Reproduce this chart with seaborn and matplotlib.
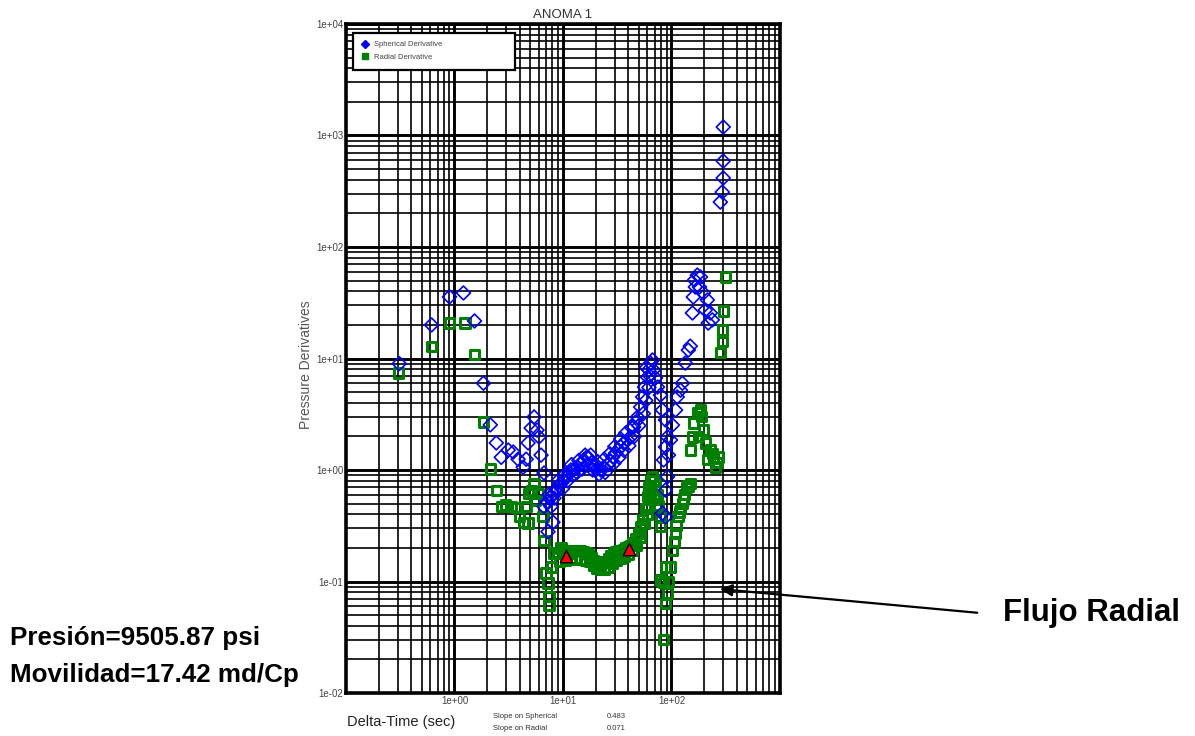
import numpy as np
import pandas as pd
import matplotlib
matplotlib.use("Agg")
import matplotlib.pyplot as plt
import seaborn as sns
from matplotlib.ticker import LogLocator, FixedLocator, FuncFormatter, NullFormatter
from matplotlib.lines import Line2D

# datos (tiempo en s, derivada)
sph_t = [0.31, 0.615, 0.90, 1.21, 1.53, 1.85, 2.14, 2.43, 2.70, 3.13, 3.48, 3.86, 4.30,
         4.58, 4.77, 5.09, 5.42, 5.77, 6.02, 6.28, 6.69, 7.28, 8.09, 7.76, 7.44, 8.27,
         6.69, 7.13, 7.76, 8.27, 8.62, 9.19, 9.59, 10.2, 10.7, 11.4, 11.8, 12.9, 13.7,
         14.6, 15.6, 16.6, 17.3, 18.5, 19.2, 20.5, 22.3, 23.8, 25.9, 27.6, 28.8, 30.6,
         32.0, 34.0, 36.3, 39.5, 42.0, 44.8, 46.7, 48.7, 52.0, 54.2, 56.5, 60.2, 61.5,
         64.2, 66.9, 68.4, 71.3, 74.4, 79.2, 82.6,
         9.0, 10.5, 12.0, 14.0, 16.0, 18.0, 21.0, 24.0, 27.0, 30.0, 34.0, 38.0, 43.0,
         9.9, 11.0, 12.3, 13.5, 15.0, 16.8, 18.8, 21.5, 24.5, 29.5, 33.0, 36.5, 40.5,
         45.5, 50.0, 55.0, 58.0, 62.0, 63.0, 59.0,
         88.1, 91.9, 88.1, 84.5, 91.9, 88.1, 82.6, 88.1,
         93.8, 97.9, 102, 109, 113, 121, 126, 134, 143, 149,
         173, 185, 163, 166, 159, 156, 181, 197, 214, 228, 238, 218, 205,
         300, 300, 300, 294, 282]
sph_d = [9.0, 20.0, 35.7, 38.7, 21.7, 6.0, 2.54, 1.75, 1.30, 1.51, 1.45, 1.25, 1.06,
         1.25, 1.75, 2.38, 2.99, 2.28, 1.98, 1.36, 0.94, 0.28, 0.34, 0.47, 0.60, 0.56,
         0.47, 0.52, 0.57, 0.62, 0.66, 0.72, 0.76, 0.81, 0.87, 0.94, 1.0, 1.04, 1.06,
         1.13, 1.23, 1.31, 1.28, 1.16, 1.06, 1.02, 1.0, 1.06, 1.11, 1.20, 1.31, 1.42,
         1.51, 1.61, 1.75, 1.86, 1.98, 2.43, 2.69, 2.99, 3.67, 4.52, 5.55, 6.8, 7.9,
         9.1, 9.7, 7.9, 6.7, 5.55, 4.7, 3.45,
         0.80, 0.92, 1.12, 1.22, 1.36, 1.36, 1.18, 1.25, 1.40, 1.62, 1.90, 2.15, 2.40,
         0.68, 0.80, 0.90, 0.95, 1.02, 1.12, 1.00, 0.92, 0.95, 1.15, 1.30, 1.50, 1.65,
         2.00, 2.50, 3.20, 4.20, 5.50, 7.00, 8.30,
         2.81, 1.98, 1.61, 1.23, 0.87, 0.66, 0.41, 0.38,
         1.36, 1.86, 2.53, 3.45, 4.52, 5.2, 6.0, 9.1, 11.9, 12.9,
         56.0, 53.8, 50.5, 43.8, 35.6, 25.6, 43.8, 38.7, 33.5, 25.6, 22.2, 20.8, 27.2,
         1192, 590, 416, 311, 253]

rad_t = [0.306, 0.615, 0.90, 1.25, 1.53, 1.85, 2.14, 2.43, 2.70, 2.93, 3.33, 3.71, 3.95,
         4.30, 4.77, 4.58, 5.09, 4.87, 5.42, 5.90, 5.60, 6.55, 6.69,
         6.98, 7.28, 7.44, 7.44, 7.9, 8.27,
         9.0, 9.59, 10.2, 10.7, 11.4, 11.8, 12.5, 13.2, 13.9, 14.6, 15.5, 16.3, 17.2,
         18.1, 19.1, 20.1, 21.2, 22.3, 23.5, 24.8, 26.2, 27.6, 29.0, 30.6, 32.3, 34.0,
         35.9, 37.8, 40.0, 42.0, 44.3, 46.7, 49.3, 52.0, 54.5, 57.7, 60.2, 62.0, 64.2,
         66.9, 69.0, 71.3, 74.0, 76.5, 79.2, 79.2,
         9.3, 10.5, 11.8, 13.0, 14.5, 16.0, 17.5, 19.0, 20.5, 22.0, 24.0, 26.0, 28.5,
         31.0, 34.0, 37.0, 40.5, 44.0, 48.0, 52.0, 56.0, 60.0, 64.0,
         63.0, 66.0, 70.0, 60.0, 56.0,
         79.2, 84.0, 88.1, 91.9, 88.1, 84.5,
         94.0, 97.9, 102, 106, 109, 115, 121, 126, 132, 138, 149,
         110, 118, 130, 142,
         185, 173, 159, 156, 149, 197, 205, 228, 243, 264, 270, 253, 190, 178, 215, 240,
         313, 300, 294, 294, 282]
rad_d = [7.4, 12.9, 20.8, 20.8, 10.8, 2.7, 1.02, 0.66, 0.47, 0.485, 0.47, 0.46, 0.38,
         0.34, 0.335, 0.47, 0.66, 0.62, 0.76, 0.62, 0.53, 0.38, 0.235,
         0.119, 0.097, 0.073, 0.061, 0.135, 0.18,
         0.18, 0.20, 0.19, 0.18, 0.18, 0.185, 0.19, 0.19, 0.19, 0.19, 0.185, 0.18, 0.175,
         0.165, 0.155, 0.15, 0.148, 0.147, 0.148, 0.152, 0.16, 0.17, 0.178, 0.185, 0.19, 0.19,
         0.195, 0.20, 0.205, 0.21, 0.225, 0.245, 0.27, 0.31, 0.36, 0.45, 0.58, 0.70, 0.81,
         0.87, 0.80, 0.72, 0.60, 0.48, 0.38, 0.31,
         0.15, 0.155, 0.158, 0.16, 0.158, 0.155, 0.15, 0.14, 0.132, 0.128, 0.128, 0.135, 0.145,
         0.155, 0.162, 0.168, 0.175, 0.19, 0.21, 0.25, 0.33, 0.45, 0.62,
         0.55, 0.65, 0.55, 0.40, 0.33,
         0.103, 0.098, 0.135, 0.079, 0.064, 0.030,
         0.10, 0.135, 0.19, 0.23, 0.27, 0.38, 0.45, 0.50, 0.60, 0.70, 0.76,
         0.32, 0.42, 0.55, 0.72,
         3.45, 3.25, 2.64, 1.98, 1.51, 2.28, 1.75, 1.51, 1.31, 1.16, 1.31, 1.06, 3.0, 2.0, 1.25, 1.4,
         53.8, 26.7, 18.0, 14.1, 11.4]

flow_t = [10.7, 40.3]
flow_d = [0.17, 0.195]

sph = pd.DataFrame({'t': sph_t, 'd': sph_d})
rad = pd.DataFrame({'t': rad_t, 'd': rad_d})
flow = pd.DataFrame({'t': flow_t, 'd': flow_d})

sns.set_style("white")
plt.rcParams['font.family'] = ['Liberation Sans', 'DejaVu Sans']

fig = plt.figure(figsize=(11.95, 7.36), dpi=100)
ax = fig.add_axes([0.2895, 0.0584, 0.3632, 0.909])

sns.scatterplot(data=rad, x='t', y='d', ax=ax, marker='s', s=44, facecolor='none',
                edgecolor='green', linewidth=2.2, zorder=3)
sns.scatterplot(data=sph, x='t', y='d', ax=ax, marker='D', s=50, facecolor='none',
                edgecolor='blue', linewidth=1.2, zorder=4)
sns.scatterplot(data=flow, x='t', y='d', ax=ax, marker='^', s=80, color='red',
                edgecolor='black', linewidth=1.0, zorder=5)

ax.set_xscale('log')
ax.set_yscale('log')
ax.set_xlim(0.1, 1000)
ax.set_ylim(0.01, 10000)

fmt = FuncFormatter(lambda v, p: f"{v:.0e}")
ax.xaxis.set_major_locator(FixedLocator([1, 10, 100]))
ax.yaxis.set_major_locator(FixedLocator([1e-2, 1e-1, 1, 10, 100, 1000, 1e4]))
ax.xaxis.set_major_formatter(fmt)
ax.yaxis.set_major_formatter(fmt)
ax.xaxis.set_minor_locator(LogLocator(base=10, subs=np.arange(2, 10), numticks=100))
ax.yaxis.set_minor_locator(LogLocator(base=10, subs=np.arange(2, 10), numticks=100))
ax.xaxis.set_minor_formatter(NullFormatter())
ax.yaxis.set_minor_formatter(NullFormatter())
ax.tick_params(which='both', length=0, labelsize=7, labelcolor='#444444', pad=2)

ax.set_axisbelow(True)
ax.grid(which='major', color='black', linewidth=2.1)
ax.grid(which='minor', color='black', linewidth=1.2)
for sp in ax.spines.values():
    sp.set_color('black')
    sp.set_linewidth(2.6)

ax.set_xlabel('')
ax.set_ylabel('')
ax.set_title('ANOMA 1', fontsize=9.5, color='#333333', pad=4)
fig.text(0.256, 0.504, 'Pressure Derivatives', rotation=90, fontsize=10,
         color='#555555', ha='center', va='center')
fig.text(0.290, 1 - 722 / 736, 'Delta-Time (sec)', fontsize=10.5, color='#222222',
         ha='left', va='center')
fig.text(493 / 1195, 1 - 716 / 736, 'Slope on Spherical', fontsize=5.5, color='#333333', va='center')
fig.text(607 / 1195, 1 - 716 / 736, '0.483', fontsize=5.5, color='#333333', va='center')
fig.text(493 / 1195, 1 - 729 / 736, 'Slope on Radial', fontsize=5.5, color='#333333', va='center')
fig.text(607 / 1195, 1 - 729 / 736, '0.071', fontsize=5.5, color='#333333', va='center')

handles = [Line2D([], [], marker='D', color='blue', ls='', ms=4.5),
           Line2D([], [], marker='s', mfc='green', mec='green', ls='', ms=4.5)]
leg = ax.legend(handles, ['Spherical Derivative', 'Radial Derivative'],
                loc='upper left', bbox_to_anchor=(0.016, 0.987, 0.373, 0.0), mode='expand',
                fontsize=5.5, frameon=True, fancybox=False, framealpha=1,
                borderpad=1.1, labelspacing=0.7, handlelength=1.0, handletextpad=0.6,
                borderaxespad=0)
leg.get_frame().set_edgecolor('black')
leg.get_frame().set_linewidth(1.6)
for txt in leg.get_texts():
    txt.set_color('#444444')

bold = dict(fontsize=18.7, fontweight='bold', color='black')
fig.text(10 / 1195, 1 - 638 / 736, 'Presión=9505.87 psi', va='center', ha='left', **bold)
fig.text(10 / 1195, 1 - 675 / 736, 'Movilidad=17.42 md/Cp', va='center', ha='left', **bold)
fig.text(1003 / 1195, 1 - 613 / 736, 'Flujo Radial', va='center', ha='left',
         fontsize=22.5, fontweight='bold', color='black')

ax.annotate('', xy=(264, 0.086), xycoords='data',
            xytext=(980 / 1195, 1 - 613 / 736), textcoords='figure fraction',
            arrowprops=dict(arrowstyle='-|>', color='black', lw=1.6, mutation_scale=18),
            annotation_clip=False)

fig.savefig('out.png', dpi=100)
